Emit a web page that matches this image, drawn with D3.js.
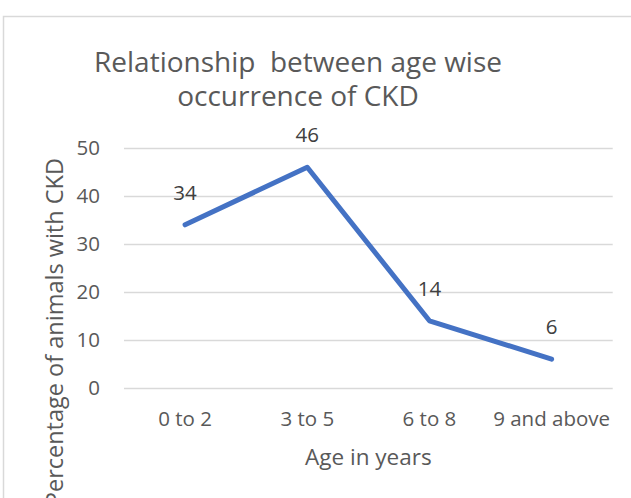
<!DOCTYPE html>
<html>
<head>
<meta charset="utf-8">
<script src="https://cdn.jsdelivr.net/npm/d3@7"></script>
<style>
  html, body { margin: 0; padding: 0; background: #fff; }
  svg { display: block; font-family: "Open Sans", sans-serif; }
</style>
</head>
<body>
<svg id="chart" width="631" height="498"></svg>
<script>
const categories = ["0 to 2", "3 to 5", "6 to 8", "9 and above"];
const values = [34, 46, 14, 6];
const yTicks = [0, 10, 20, 30, 40, 50];
const titleLines = ["Relationship  between age wise", "occurrence of CKD"];
const xTitle = "Age in years";
const yTitle = "Percentage of animals with CKD";

const svg = d3.select("#chart");
const W = 631, H = 498;
const plot = { left: 124, right: 612.7, top: 148, bottom: 388 };

// chart border
svg.append("rect")
  .attr("x", 3.5).attr("y", 16.5)
  .attr("width", W + 10).attr("height", H + 10)
  .attr("fill", "#fff").attr("stroke", "#d9d9d9").attr("stroke-width", 1.5);

const x = d3.scaleBand().domain(categories).range([plot.left, plot.right]).padding(0);
const y = d3.scaleLinear().domain([0, 50]).range([plot.bottom, plot.top]);

// gridlines + y ticks via axis
const yAxis = d3.axisLeft(y).tickValues(yTicks).tickSize(-(plot.right - plot.left)).tickPadding(24);
const gy = svg.append("g").attr("transform", `translate(${plot.left},0)`).call(yAxis);
gy.select(".domain").remove();
gy.selectAll(".tick line").attr("stroke", "#d9d9d9").attr("stroke-width", 1.5);
gy.selectAll(".tick text")
  .attr("fill", "#595959").attr("font-size", "20.5px")
  .attr("font-family", "'Open Sans', sans-serif");

// x axis labels
const xAxis = d3.axisBottom(x).tickSize(0).tickPadding(0);
const gx = svg.append("g").attr("transform", `translate(0,${plot.bottom})`).call(xAxis);
gx.select(".domain").remove();
gx.selectAll(".tick text")
  .attr("fill", "#595959").attr("font-size", "20.5px")
  .attr("font-family", "'Open Sans', sans-serif")
  .attr("dy", null).attr("y", 38);

// line
const line = d3.line()
  .x((d, i) => x(categories[i]) + x.bandwidth() / 2)
  .y(d => y(d));
svg.append("path")
  .datum(values)
  .attr("d", line)
  .attr("fill", "none")
  .attr("stroke", "#4472c4")
  .attr("stroke-width", 5)
  .attr("stroke-linejoin", "round")
  .attr("stroke-linecap", "round");

// data labels
svg.append("g").selectAll("text")
  .data(values)
  .join("text")
  .attr("x", (d, i) => x(categories[i]) + x.bandwidth() / 2)
  .attr("y", d => y(d) - 25)
  .attr("text-anchor", "middle")
  .attr("fill", "#404040")
  .attr("font-size", "20.5px")
  .text(d => d);

// title
svg.append("g").selectAll("text")
  .data(titleLines)
  .join("text")
  .attr("x", 298)
  .attr("y", (d, i) => 72 + i * 34)
  .attr("text-anchor", "middle")
  .attr("fill", "#595959")
  .attr("font-size", "28px")
  .style("white-space", "pre")
  .text(d => d);

// x axis title
svg.append("text")
  .attr("x", (plot.left + plot.right) / 2)
  .attr("y", 465)
  .attr("text-anchor", "middle")
  .attr("fill", "#595959")
  .attr("font-size", "22.5px")
  .text(xTitle);

// y axis title
svg.append("text")
  .attr("transform", `translate(63,158) rotate(-90)`)
  .attr("text-anchor", "end")
  .attr("fill", "#595959")
  .attr("font-size", "23.5px")
  .text(yTitle);
</script>
</body>
</html>
